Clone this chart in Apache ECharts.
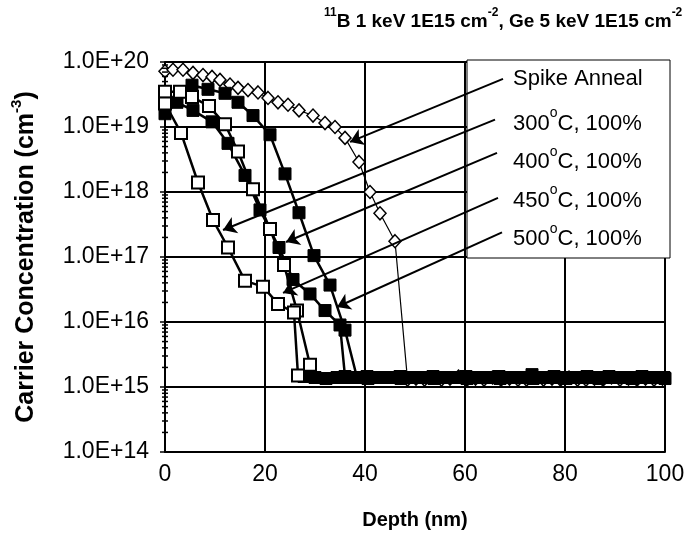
<!DOCTYPE html>
<html>
<head>
<meta charset="utf-8">
<script src="https://cdn.jsdelivr.net/npm/echarts@6/dist/echarts.min.js"></script>
<style>
  html, body { margin: 0; padding: 0; background: #fff; }
  #main { width: 693px; height: 543px; }
</style>
</head>
<body>
<div id="main"></div>
<script>
// depth (nm) vs carrier concentration (cm-3)
const spike = [
  [0, 7.2e19], [1.6, 7.6e19], [3.6, 7.6e19], [5.6, 6.8e19], [7.6, 6.3e19], [9.4, 5.9e19],
  [11, 5.3e19], [13, 4.5e19], [14.6, 4.0e19], [16.6, 3.7e19], [18.6, 3.4e19], [20.6, 2.8e19],
  [22.6, 2.4e19], [24.6, 2.2e19], [26.8, 1.8e19], [29.6, 1.5e19], [32, 1.15e19], [34, 1.0e19],
  [36, 6.8e18], [38.8, 2.9e18], [41, 1.0e18], [43, 4.7e17], [46, 1.75e17], [48.5, 1.3e15],
  [50.2, 1.35e15], [51.9, 1.3e15], [53.6, 1.4e15], [55.3, 1.3e15], [57, 1.35e15], [58.7, 1.45e15],
  [60.4, 1.3e15], [62.1, 1.35e15], [63.8, 1.3e15], [65.5, 1.4e15], [67.2, 1.3e15], [68.9, 1.35e15],
  [70.6, 1.3e15], [72.3, 1.3e15], [74, 1.4e15], [75.7, 1.3e15], [77.4, 1.35e15], [79.1, 1.3e15],
  [80.8, 1.4e15], [82.5, 1.3e15], [84.2, 1.3e15], [85.9, 1.35e15], [87.6, 1.3e15], [89.3, 1.4e15],
  [91, 1.3e15], [92.7, 1.35e15], [94.4, 1.3e15], [96.1, 1.35e15], [97.8, 1.3e15], [99.5, 1.35e15]
];
const c300 = [
  [0, 2.3e19], [3.2, 8.1e18], [6.6, 1.4e18], [9.6, 3.7e17], [12.6, 1.4e17], [16, 4.3e16],
  [19.6, 3.5e16], [22.6, 1.9e16], [25.8, 1.4e16], [26.6, 1.5e15]
];
const c400 = [
  [0, 1.6e19], [2.4, 2.4e19], [5.6, 1.8e19], [9.4, 1.2e19], [12.6, 5.6e18], [16, 1.8e18],
  [19, 5.3e17], [22.8, 1.4e17], [25.6, 4.5e16], [29, 2.7e16], [32, 1.5e16], [35, 9e15],
  [36, 1.45e15], [38.2, 1.4e15], [40.4, 1.45e15], [42.6, 1.4e15], [44.8, 1.4e15], [47, 1.45e15],
  [49.2, 1.4e15], [51.4, 1.4e15], [53.6, 1.45e15], [55.8, 1.4e15], [58, 1.4e15], [60.2, 1.45e15],
  [62.4, 1.4e15], [64.6, 1.4e15], [66.8, 1.45e15], [69, 1.4e15], [71.2, 1.4e15], [73.4, 1.55e15],
  [75.6, 1.4e15], [77.8, 1.45e15], [80, 1.4e15], [82.2, 1.4e15], [84.4, 1.45e15], [86.6, 1.4e15],
  [88.8, 1.45e15], [91, 1.4e15], [93.2, 1.4e15], [95.4, 1.45e15], [97.6, 1.4e15], [99.8, 1.4e15]
];
const c450 = [
  [0, 3.5e19], [3, 3.5e19], [5.4, 2.9e19], [8.8, 2.1e19], [12, 1.1e19], [14.6, 4.2e18],
  [17.6, 1.1e18], [21, 2.7e17], [23.8, 7.5e16], [26.4, 1.5e16], [29, 2.2e15]
];
const c500 = [
  [5.4, 4.4e19], [8.6, 3.8e19], [12, 3.3e19], [14.6, 2.4e19], [17.6, 1.5e19], [21, 7.6e18],
  [24, 1.9e18], [26.8, 4.8e17], [29.8, 1.05e17], [33, 3.7e16], [36, 7.5e15], [38.4, 1.4e15]
];
const c500tail = [
  [27.8, 1.45e15], [30, 1.4e15], [32.2, 1.35e15], [34.4, 1.4e15], [36.6, 1.4e15], [38.4, 1.4e15],
  [40.6, 1.35e15], [42.8, 1.4e15], [45, 1.4e15], [47.2, 1.35e15], [49.4, 1.4e15], [51.6, 1.4e15],
  [53.8, 1.35e15], [56, 1.4e15], [58.2, 1.4e15], [60.4, 1.35e15], [62.6, 1.4e15], [64.8, 1.4e15],
  [67, 1.35e15], [69.2, 1.4e15], [71.4, 1.4e15], [73.6, 1.35e15], [75.8, 1.4e15], [78, 1.4e15],
  [80.2, 1.35e15], [82.4, 1.4e15], [84.6, 1.4e15], [86.8, 1.35e15], [89, 1.4e15], [91.2, 1.4e15],
  [93.4, 1.35e15], [95.6, 1.4e15], [97.8, 1.4e15], [100, 1.35e15]
];

const legendNames = ['Spike Anneal', '300{s|o}C, 100%', '400{s|o}C, 100%', '450{s|o}C, 100%', '500{s|o}C, 100%'];
// arrow: [label end, point on curve]
const arrows = [
  [[67.6, 5.5e19], [37, 5.9e18]],
  [[66, 1.3e19], [11.6, 2.6e17]],
  [[66.4, 4.0e18], [24.2, 1.7e17]],
  [[66.6, 8.1e17], [23.6, 2.8e16]],
  [[67.4, 2.4e17], [34.4, 1.7e16]]
];
const decades = [14, 15, 16, 17, 18, 19, 20];
const minorSteps = [2, 3, 4, 5, 6, 7, 8, 9];

const fontFamily = '"Liberation Sans", Arial, sans-serif';

let ticks = [];
decades.forEach(function (d) {
  ticks.push([0, Math.pow(10, d), 5]);
  if (d < 20) minorSteps.forEach(function (m) { ticks.push([0, m * Math.pow(10, d), 3]); });
});

function arrowLine(a) {
  return [{ coord: a[0] }, { coord: a[1] }];
}

const openSq = { color: '#fff', borderColor: '#000', borderWidth: 2 };
const fillSq = { color: '#000', borderColor: '#000', borderWidth: 1 };

let myChart = echarts.init(document.getElementById('main'));
let option = {
  animation: false,
  backgroundColor: '#fff',
  title: {
    text: '{s|11}{t|B 1 keV 1E15 cm}{s|-2}{t|, Ge 5 keV 1E15 cm}{s|-2}',
    left: 319,
    top: 2,
    textStyle: {
      rich: {
        t: { fontSize: 19, fontWeight: 'bold', fontFamily: fontFamily, color: '#000', lineHeight: 24, verticalAlign: 'bottom' },
        s: { fontSize: 12, fontWeight: 'bold', fontFamily: fontFamily, color: '#000', lineHeight: 24, verticalAlign: 'top' }
      }
    }
  },
  grid: { left: 165, right: 28, top: 62, bottom: 91 },
  xAxis: {
    type: 'value',
    min: 0, max: 100, interval: 20,
    name: 'Depth (nm)',
    nameLocation: 'middle',
    nameGap: 58,
    nameTextStyle: { fontSize: 20, fontWeight: 'bold', fontFamily: fontFamily, color: '#000' },
    axisLine: { lineStyle: { color: '#000', width: 2 } },
    axisTick: { show: false },
    axisLabel: { fontSize: 23, fontFamily: fontFamily, color: '#000', margin: 11 },
    splitLine: { lineStyle: { color: '#000', width: 2 } }
  },
  yAxis: {
    type: 'log',
    logBase: 10,
    min: 1e14, max: 1e20, interval: 1,
    name: '{t|Carrier Concentration (cm}{s|-3}{t|)}',
    nameLocation: 'middle',
    nameGap: 126,
    nameTextStyle: {
      rich: {
        t: { fontSize: 25, fontWeight: 'bold', fontFamily: fontFamily, color: '#000', lineHeight: 30, verticalAlign: 'bottom' },
        s: { fontSize: 15, fontWeight: 'bold', fontFamily: fontFamily, color: '#000', lineHeight: 30, verticalAlign: 'top' }
      }
    },
    axisLine: { lineStyle: { color: '#000', width: 2 } },
    axisTick: { show: false },
    axisLabel: {
      fontSize: 23, fontFamily: fontFamily, color: '#000', margin: 16,
      formatter: function (v) { return v.toExponential(1).toUpperCase(); }
    },
    splitLine: { lineStyle: { color: '#000', width: 2 } }
  },
  graphic: [
    {
      type: 'rect', z: 1,
      shape: { x: 467, y: 60, width: 203, height: 198 },
      style: { fill: '#fff', stroke: '#000', lineWidth: 1 }
    }
  ].concat(legendNames.map(function (name, i) {
    return {
      type: 'text', z: 3,
      left: 513, top: 68 + i * 38.5,
      style: {
        text: '{t|' + name.replace('{s|o}', '}{s|o}{t|') + '}',
        rich: {
          t: { fontSize: 22, fontFamily: fontFamily, fill: '#000', lineHeight: 28, verticalAlign: 'bottom' },
          s: { fontSize: 14, fontFamily: fontFamily, fill: '#000', lineHeight: 28, verticalAlign: 'top' }
        }
      }
    };
  })),
  series: [
    {
      name: 'ticks',
      type: 'custom',
      clip: false,
      silent: true,
      z: 4,
      data: ticks,
      renderItem: function (params, api) {
        let p = api.coord([api.value(0), api.value(1)]);
        let len = api.value(2);
        return {
          type: 'line',
          shape: { x1: p[0] - len, y1: p[1], x2: p[0] + len, y2: p[1] },
          style: { stroke: '#000', lineWidth: 1.5 }
        };
      }
    },
    {
      name: 'Spike Anneal', type: 'line', data: spike, z: 2,
      symbol: 'diamond', symbolSize: [12, 13],
      itemStyle: { color: '#fff', borderColor: '#000', borderWidth: 1.5 },
      lineStyle: { color: '#000', width: 1.2 },
      markLine: {
        silent: true, symbol: ['none', 'arrow'], symbolSize: 13, z: 8,
        lineStyle: { color: '#000', width: 2, type: 'solid' },
        label: { show: false },
        data: arrows.map(arrowLine)
      }
    },
    {
      name: '500 tail', type: 'line', data: c500tail, z: 3,
      symbol: 'rect', symbolSize: 12, itemStyle: fillSq,
      lineStyle: { color: '#000', width: 2.5 }
    },
    {
      name: '500oC, 100%', type: 'line', data: c500, z: 3,
      symbol: 'rect', symbolSize: 12, itemStyle: fillSq,
      lineStyle: { color: '#000', width: 2.5 }
    },
    {
      name: '400oC, 100%', type: 'line', data: c400, z: 3,
      symbol: 'rect', symbolSize: 12, itemStyle: fillSq,
      lineStyle: { color: '#000', width: 2.5 }
    },
    {
      name: '450oC, 100%', type: 'line', data: c450, z: 4,
      symbol: 'rect', symbolSize: 12, itemStyle: openSq,
      lineStyle: { color: '#000', width: 2.5 }
    },
    {
      name: '300oC, 100%', type: 'line', data: c300, z: 4,
      symbol: 'rect', symbolSize: 12, itemStyle: openSq,
      lineStyle: { color: '#000', width: 2.5 }
    }
  ]
};
myChart.setOption(option);
</script>
</body>
</html>
